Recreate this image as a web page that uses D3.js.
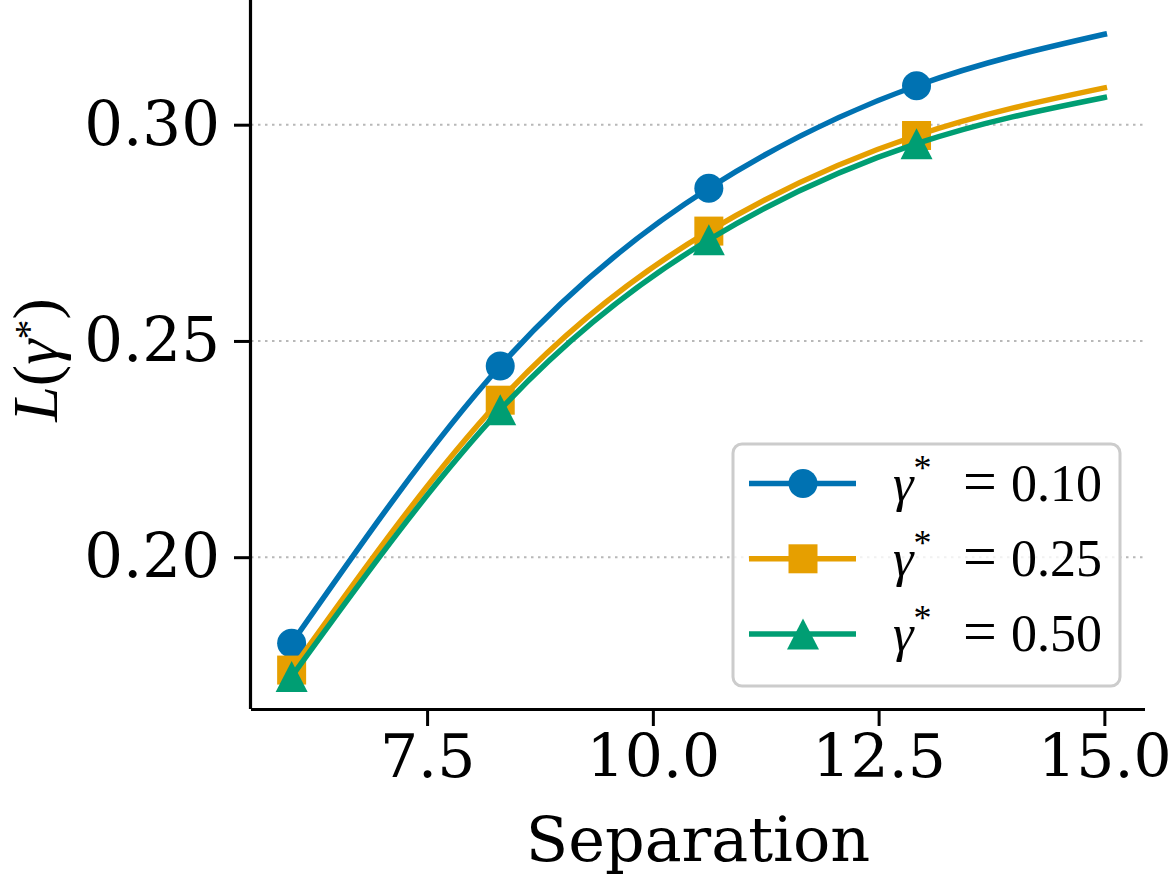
<!DOCTYPE html>
<html>
<head>
<meta charset="utf-8">
<script src="https://cdn.jsdelivr.net/npm/d3@7"></script>
<style>
  html, body { margin: 0; padding: 0; background: #fff; }
  svg { display: block; }
</style>
</head>
<body>
<svg id="chart"></svg>
<script>
// Data
const separation = [6, 8.31, 10.62, 12.92, 15];
const loss010 = [0.1801, 0.2442, 0.2853, 0.3090, 0.3209];
const loss025 = [0.1739, 0.2363, 0.2754, 0.2975, 0.3085];
const loss050 = [0.1724, 0.2341, 0.2734, 0.2956, 0.3063];
const gammaLabels = ["0.10", "0.25", "0.50"];
const xTicks = [7.5, 10.0, 12.5, 15.0];
const yTicks = [0.20, 0.25, 0.30];

const width = 1171;
const height = 877;
const margin = ({top: 1, right: 26, bottom: 168, left: 251});

const colors = ["#0072B2", "#E69F00", "#009E73"];
const shapes = ["circle", "square", "triangle"];
const seriesValues = [loss010, loss025, loss050];

const series = gammaLabels.map((g, i) => ({
    label: g,
    color: colors[i],
    shape: shapes[i],
    points: separation.map((s, j) => ({x: s, y: seriesValues[i][j]}))
}));

const x = d3.scaleLinear()
    .domain([5.55, 15.45])
    .range([margin.left, width - margin.right]);
const y = d3.scaleLinear()
    .domain([0.1649, 0.3286])
    .range([height - margin.bottom, margin.top]);

const svg = d3.select("#chart")
    .attr("width", width)
    .attr("height", height)
    .attr("viewBox", [0, 0, width, height]);

const serif = "'DejaVu Serif', serif";
const mathFont = "'Liberation Serif', 'DejaVu Serif', serif";

// grid (y only, dotted)
svg.append("g")
    .selectAll("line")
    .data(yTicks)
    .join("line")
    .attr("x1", margin.left)
    .attr("x2", width - margin.right)
    .attr("y1", d => y(d))
    .attr("y2", d => y(d))
    .attr("stroke", "#b8b8b8")
    .attr("stroke-width", 2)
    .attr("stroke-dasharray", "2.5,4.5");

// markers
function markerPath(shape) {
    if (shape === "circle") return d3.symbol().type(d3.symbolCircle).size(Math.PI * 14.5 * 14.5)();
    if (shape === "square") return "M-14.5,-14.5H14.5V14.5H-14.5Z";
    return "M0,-15.5L16,15.5L-16,15.5Z";
}

const line = d3.line()
    .x(d => x(d.x))
    .y(d => y(d.y))
    .curve(d3.curveNatural);

const lines = svg.append("g");
series.forEach(s => {
    lines.append("path")
        .datum(s.points)
        .attr("fill", "none")
        .attr("stroke", s.color)
        .attr("stroke-width", 5.5)
        .attr("stroke-linecap", "square")
        .attr("d", line);
    lines.append("g")
        .selectAll("path")
        .data(s.points.slice(0, 4))
        .join("path")
        .attr("transform", d => `translate(${x(d.x)},${y(d.y)})`)
        .attr("fill", s.color)
        .attr("d", markerPath(s.shape));
});

// axes
const xAxis = g => g
    .attr("transform", `translate(0,${height - margin.bottom})`)
    .call(d3.axisBottom(x).tickValues(xTicks).tickFormat(d3.format(".1f")).tickSize(17).tickPadding(8))
    .call(g => g.select(".domain").attr("stroke-width", 3.2).attr("d", `M${margin.left},0.5H${width - margin.right}`))
    .call(g => g.selectAll(".tick line").attr("stroke-width", 3))
    .call(g => g.selectAll(".tick text").attr("font-family", serif).attr("font-size", 60).attr("fill", "#000"));

const yAxis = g => g
    .attr("transform", `translate(${margin.left},0)`)
    .call(d3.axisLeft(y).tickValues(yTicks).tickFormat(d3.format(".2f")).tickSize(17).tickPadding(14))
    .call(g => g.select(".domain").attr("stroke-width", 3.2).attr("d", `M-0.5,${margin.top - 1}V${height - margin.bottom}`))
    .call(g => g.selectAll(".tick line").attr("stroke-width", 3))
    .call(g => g.selectAll(".tick text").attr("font-family", serif).attr("font-size", 61).attr("fill", "#000"));

svg.append("g").call(xAxis);
svg.append("g").call(yAxis);

// axis labels
svg.append("text")
    .attr("x", (margin.left + width - margin.right) / 2)
    .attr("y", 861)
    .attr("text-anchor", "middle")
    .attr("font-family", serif)
    .attr("font-size", 62)
    .text("Separation");

const yLab = svg.append("text")
    .attr("transform", "translate(57,360) rotate(-90)")
    .attr("text-anchor", "middle")
    .attr("font-family", mathFont)
    .attr("font-size", 64);
yLab.append("tspan").attr("font-style", "italic").text("L");
yLab.append("tspan").text("(");
yLab.append("tspan").attr("font-style", "italic").text("γ");
yLab.append("tspan").attr("font-size", 40).attr("dy", -15).text("*");
yLab.append("tspan").attr("dy", 15).text(")");

// legend
const legend = svg.append("g").attr("transform", "translate(733,444)");
legend.append("rect")
    .attr("width", 387)
    .attr("height", 242)
    .attr("rx", 9)
    .attr("fill", "#fff")
    .attr("fill-opacity", 0.8)
    .attr("stroke", "#cccccc")
    .attr("stroke-width", 3);

const rows = legend.selectAll("g.row")
    .data(series)
    .join("g")
    .attr("class", "row")
    .attr("transform", (d, i) => `translate(0,${39.5 + i * 75.3})`);

rows.append("line")
    .attr("x1", 16).attr("x2", 123)
    .attr("stroke", d => d.color)
    .attr("stroke-width", 5.5);
rows.append("path")
    .attr("transform", "translate(70,0)")
    .attr("fill", d => d.color)
    .attr("d", d => markerPath(d.shape));

const lt = rows.append("text")
    .attr("y", 17)
    .attr("font-family", mathFont)
    .attr("font-size", 52);
lt.append("tspan").attr("x", 160).attr("font-style", "italic").text("γ");
lt.append("tspan").attr("font-size", 36).attr("dy", -21).text("*");
lt.append("tspan").attr("x", 230).attr("dy", 21).attr("font-size", 60).text("=");
lt.append("tspan").attr("x", 278).text(d => d.label);
</script>
</body>
</html>
